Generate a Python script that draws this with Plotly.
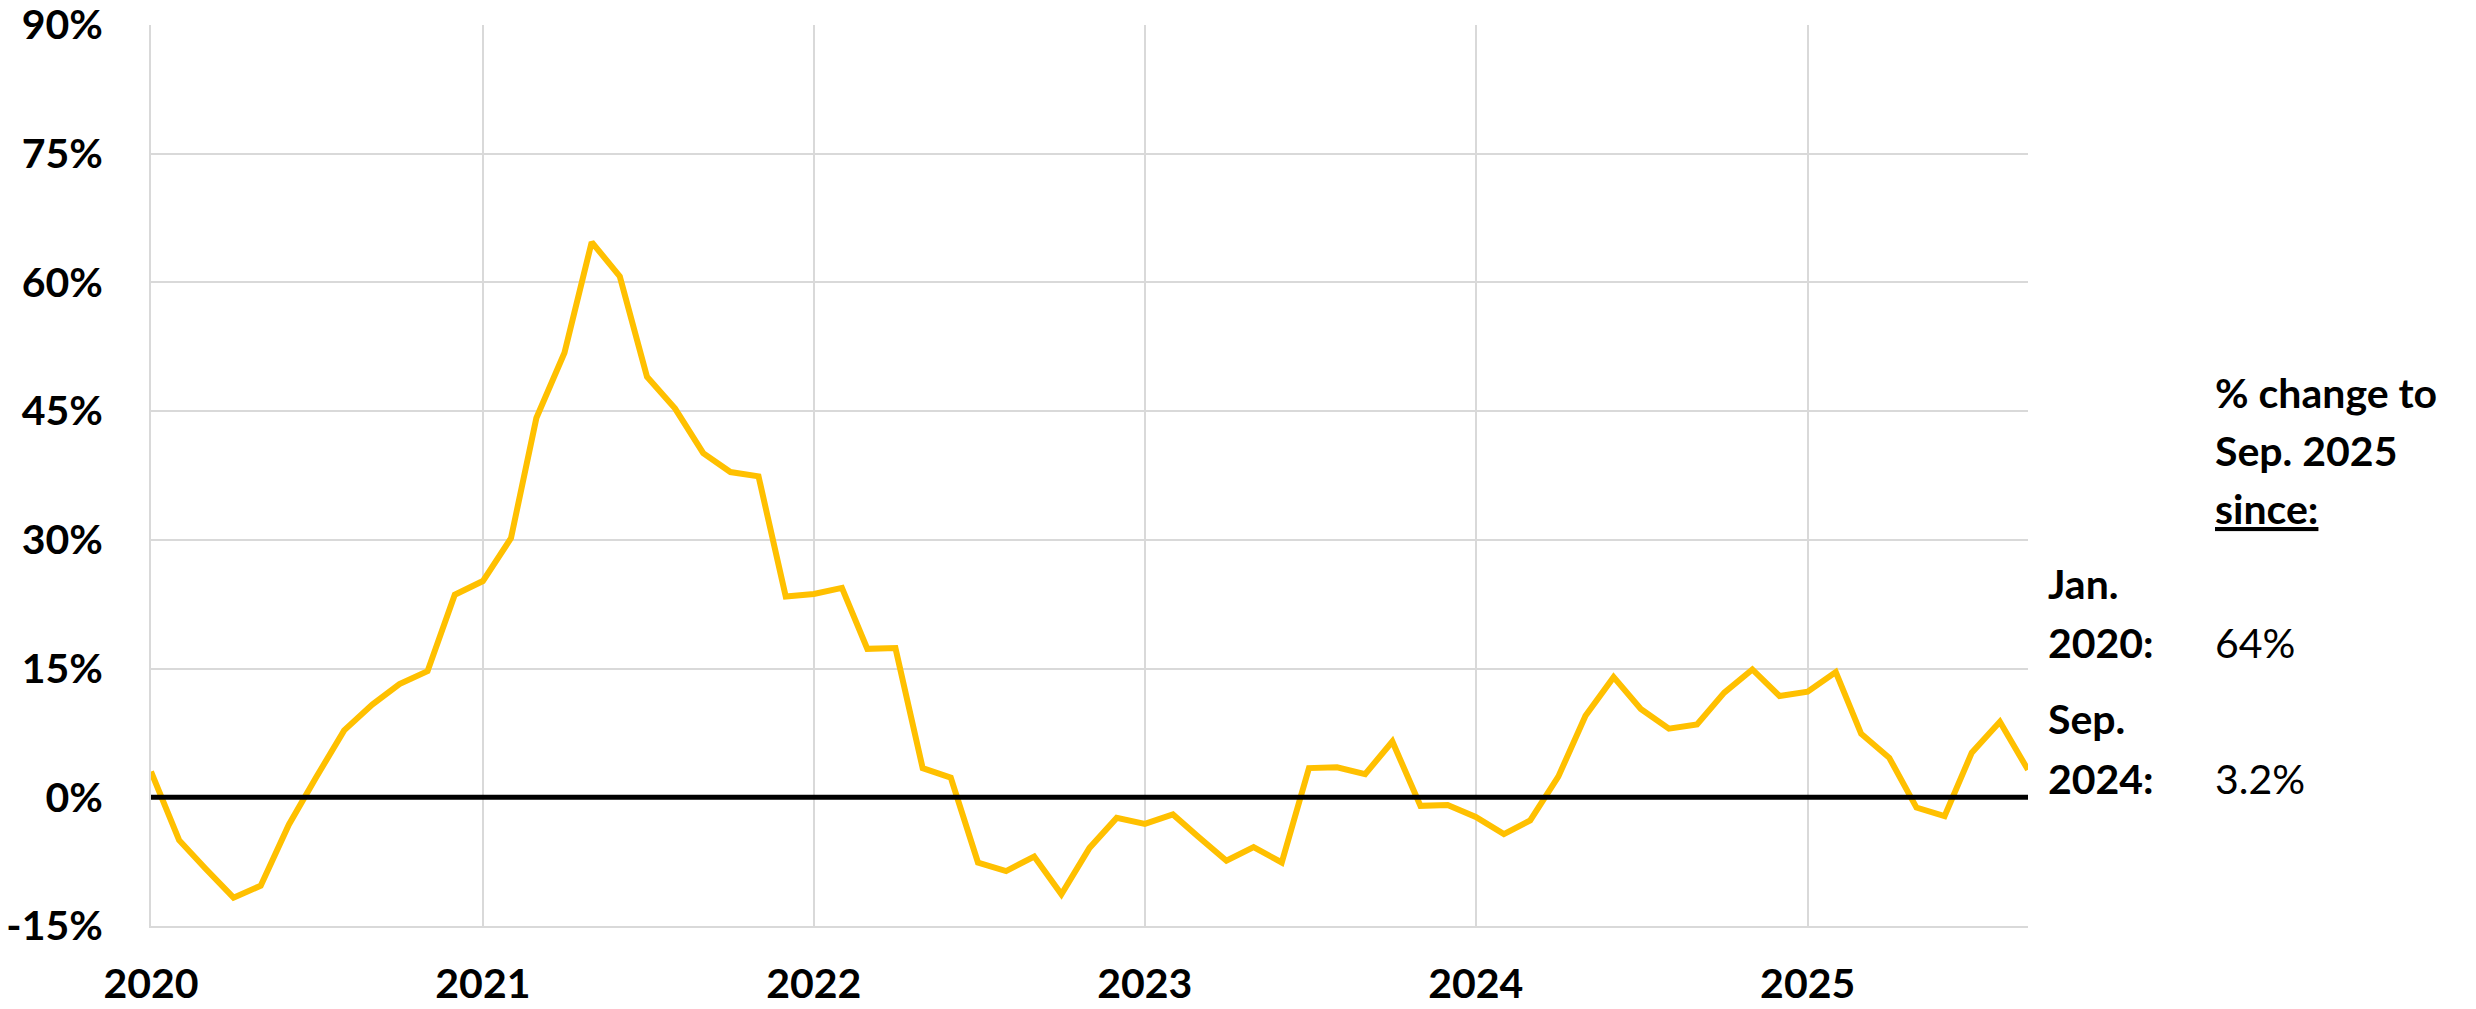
import plotly.graph_objects as go
import pandas as pd

# monthly % change, Jan 2020 - Sep 2025
months = pd.date_range("2020-01-01", "2025-09-01", freq="MS")
pct_change = [
    3.0, -5.0, -8.3, -11.7, -10.3, -3.2, 2.3, 7.8, 10.8, 13.2, 14.7, 23.6,
    25.2, 30.2, 44.2, 51.8, 64.7, 60.7, 49.0, 45.3, 40.1, 37.9, 37.4, 23.4,
    23.7, 24.4, 17.3, 17.4, 3.4, 2.3, -7.6, -8.6, -6.9, -11.3, -5.9, -2.4,
    -3.1, -2.0, -4.6, -7.4, -5.8, -7.6, 3.4, 3.5, 2.7, 6.5, -1.0, -0.9,
    -2.3, -4.3, -2.7, 2.4, 9.5, 14.0, 10.3, 8.0, 8.5, 12.2, 14.9, 11.8,
    12.3, 14.6, 7.4, 4.6, -1.2, -2.2, 5.2, 8.8, 3.2,
]
y_ticks = [-15, 0, 15, 30, 45, 60, 75, 90]
y_tick_labels = ["-15%", "0%", "15%", "30%", "45%", "60%", "75%", "90%"]

header_lines = ["% change to", "Sep. 2025", "<span style='text-decoration:underline'>since:</span>"]
since_labels = [("Jan.", "2020:"), ("Sep.", "2024:")]
since_values = ["64%", "3.2%"]

FONT = "Lato"
W, H = 2476, 1009
L, R, T, B = 151, 448, 25, 83
plot_h = H - T - B
plot_w = W - L - R


def px_y(y):
    return (H - B - y) / plot_h


def px_x(x):
    return (x - L) / plot_w


bold = dict(family=FONT, size=41, color="black", weight="bold")

fig = go.Figure()
fig.add_trace(go.Scatter(
    x=months, y=pct_change, mode="lines",
    line=dict(color="#FFC000", width=6),
    hoverinfo="x+y", showlegend=False,
))

fig.add_hline(y=0, line=dict(color="black", width=5), layer="above")

# right-hand text block
for i, txt in enumerate(header_lines):
    fig.add_annotation(
        text=txt, xref="paper", yref="paper",
        x=px_x(2213), y=px_y(392 + 58 * i),
        xanchor="left", yanchor="middle", showarrow=False, font=bold,
    )
for i, ((a, b), val) in enumerate(zip(since_labels, since_values)):
    top = 583 + 135 * i
    fig.add_annotation(
        text=a, xref="paper", yref="paper", x=px_x(2046), y=px_y(top),
        xanchor="left", yanchor="middle", showarrow=False, font=bold,
    )
    fig.add_annotation(
        text=b, xref="paper", yref="paper", x=px_x(2046), y=px_y(top + 60),
        xanchor="left", yanchor="middle", showarrow=False, font=bold,
    )
    fig.add_annotation(
        text=val, xref="paper", yref="paper", x=px_x(2213), y=px_y(top + 60),
        xanchor="left", yanchor="middle", showarrow=False,
        font=dict(family=FONT, size=41, color="black"),
    )

fig.update_xaxes(
    range=[months[0], months[-1]],
    tickformat="%Y", dtick="M12", tick0="2020-01-01",
    showgrid=True, gridcolor="#D9D9D9", gridwidth=2,
    showline=True, linecolor="#D9D9D9", linewidth=2,
    ticks="", ticklabelstandoff=21, automargin=False,
    ticklabeloverflow="allow", tickfont=bold,
)
fig.update_yaxes(
    range=[-15, 90], tickvals=y_ticks, ticktext=y_tick_labels,
    showgrid=True, gridcolor="#D9D9D9", gridwidth=2,
    showline=True, linecolor="#D9D9D9", linewidth=2,
    zeroline=False, ticks="", ticklabelstandoff=38, automargin=False,
    ticklabeloverflow="allow", tickfont=bold,
)
fig.update_layout(
    width=W, height=H,
    margin=dict(l=L, r=R, t=T, b=B),
    plot_bgcolor="white", paper_bgcolor="white",
    font=dict(family=FONT),
)

fig.write_html(
    "out.html",
    config={"displayModeBar": False},
    post_script="document.body.style.margin='0';",
)
